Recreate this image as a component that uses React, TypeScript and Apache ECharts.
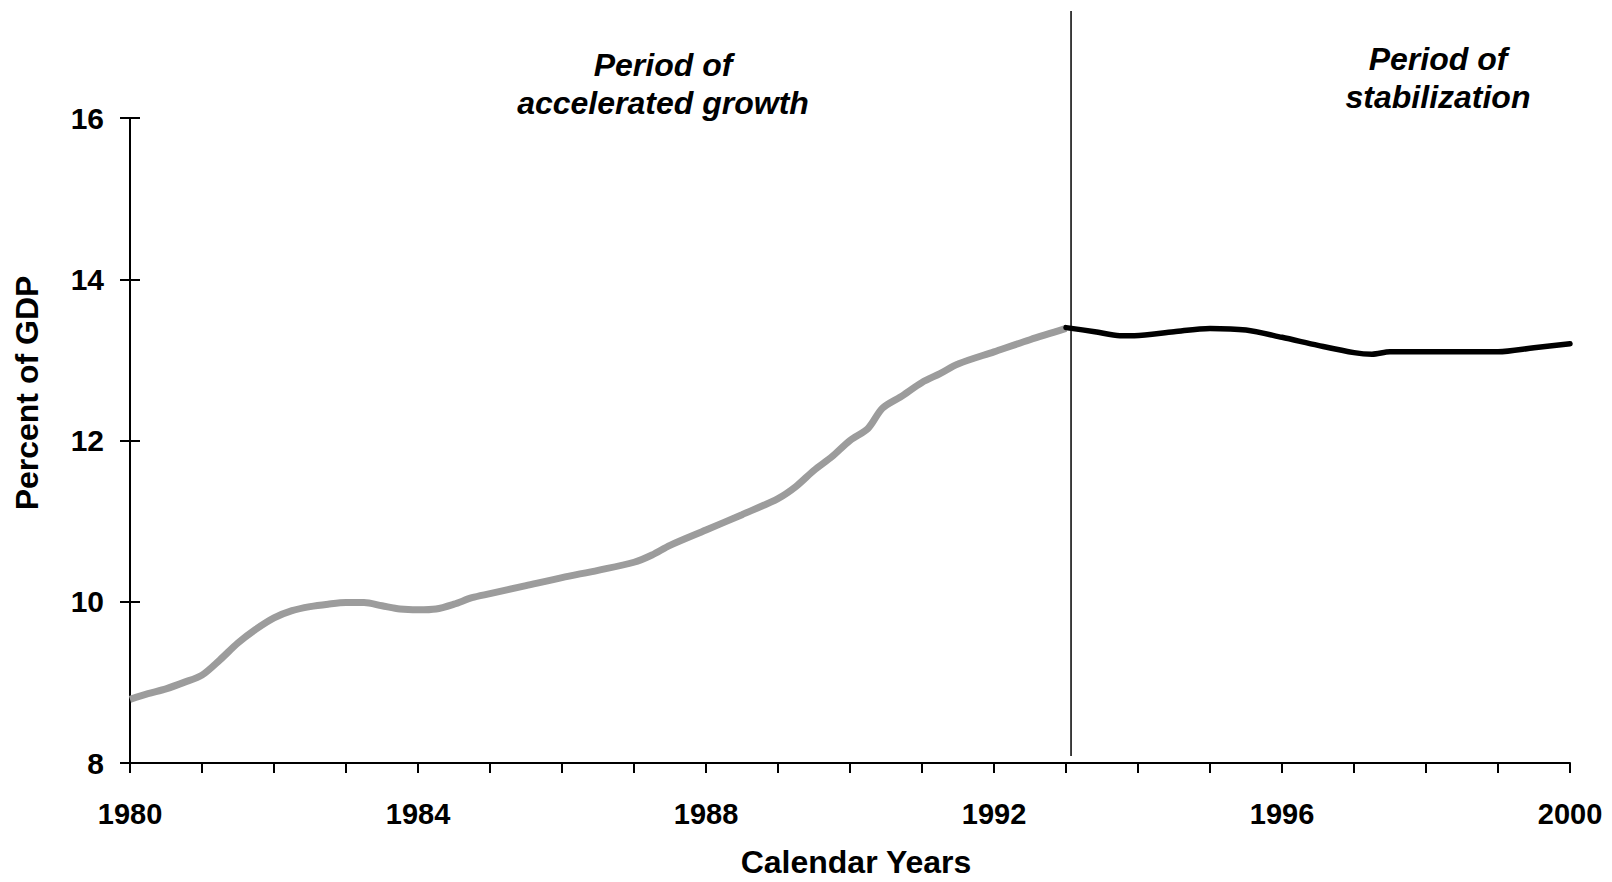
import React, { useEffect, useRef } from "react";
import * as echarts from "echarts";

// Growth period (gray line), calendar years and percent of GDP
const growthYears = [
  1980.0, 1980.25, 1980.5, 1980.75, 1981.0, 1981.25, 1981.5, 1981.75, 1982.0, 1982.25,
  1982.5, 1982.75, 1983.0, 1983.25, 1983.5, 1983.75, 1984.0, 1984.25, 1984.5, 1984.75,
  1985.0, 1985.5, 1986.0, 1986.5, 1987.0, 1987.25, 1987.5, 1988.0, 1988.5, 1989.0,
  1989.25, 1989.5, 1989.75, 1990.0, 1990.25, 1990.45, 1990.7, 1991.0, 1991.25, 1991.5,
  1992.0, 1992.5, 1993.0,
];
const growthValues = [
  8.79, 8.86, 8.92, 9.0, 9.09, 9.28, 9.49, 9.66, 9.8, 9.89,
  9.94, 9.97, 9.99, 9.99, 9.95, 9.91, 9.9, 9.91, 9.97, 10.05,
  10.1, 10.2, 10.3, 10.39, 10.49, 10.58, 10.7, 10.89, 11.08, 11.28,
  11.43, 11.63, 11.8, 12.0, 12.15, 12.4, 12.54, 12.72, 12.83, 12.95,
  13.1, 13.25, 13.39,
];

// Stabilization period (black line)
const stableYears = [
  1993.0, 1993.4, 1993.75, 1993.95, 1994.5, 1995.0, 1995.5, 1996.0, 1996.5, 1997.0,
  1997.25, 1997.5, 1998.0, 1998.5, 1999.0, 1999.5, 2000.0,
];
const stableValues = [
  13.4, 13.35, 13.3, 13.3, 13.35, 13.39, 13.37, 13.28, 13.18, 13.09,
  13.07, 13.1, 13.1, 13.1, 13.1, 13.15, 13.2,
];

const xMin = 1980;
const xMax = 2000;
const xLabelStep = 4;
const yMin = 8;
const yMax = 16;
const yStep = 2;
const boundaryYear = 1993.07;

const xTitle = "Calendar Years";
const yTitle = "Percent of GDP";
const leftNote = ["Period of", "accelerated growth"];
const rightNote = ["Period of", "stabilization"];

const FONT = '"Liberation Sans", Arial, Helvetica, sans-serif';

export default function App() {
  const ref = useRef<HTMLDivElement | null>(null);

  useEffect(() => {
    if (!ref.current) return;
    const chart = echarts.init(ref.current, null, { renderer: "svg" });

    const growthData = growthYears.map((y, i) => [y, growthValues[i]]);
    const stableData = stableYears.map((y, i) => [y, stableValues[i]]);

    const axisLineStyle = { color: "#000", width: 2 };

    chart.setOption({
      animation: false,
      backgroundColor: "#fff",
      grid: { left: 130, right: 42, top: 118, bottom: 119, containLabel: false },
      xAxis: {
        type: "value",
        min: xMin,
        max: xMax,
        interval: 1,
        axisLine: { show: true, lineStyle: axisLineStyle },
        axisTick: { show: true, length: 10, lineStyle: axisLineStyle },
        splitLine: { show: false },
        axisLabel: {
          margin: 36,
          color: "#000",
          fontFamily: FONT,
          fontWeight: "bold",
          fontSize: 29,
          formatter: (v: number) => (Math.round(v) % xLabelStep === 0 ? String(Math.round(v)) : ""),
        },
      },
      yAxis: [
        {
          type: "value",
          min: yMin,
          max: yMax,
          interval: yStep,
          position: "left",
          axisLine: { show: true, onZero: false, lineStyle: axisLineStyle },
          axisTick: { show: true, length: 10, lineStyle: axisLineStyle },
          splitLine: { show: false },
          axisLabel: {
            margin: 26,
            color: "#000",
            fontFamily: FONT,
            fontWeight: "bold",
            fontSize: 30,
          },
        },
        {
          type: "value",
          min: yMin,
          max: yMax,
          interval: yStep,
          position: "left",
          offset: 0,
          axisLine: { show: false },
          axisTick: { show: true, inside: true, length: 10, lineStyle: axisLineStyle },
          splitLine: { show: false },
          axisLabel: { show: false },
        },
      ],
      series: [
        {
          type: "line",
          data: growthData,
          showSymbol: false,
          smooth: 0.3,
          lineStyle: { color: "#9c9c9c", width: 7 },
          z: 2,
        },
        {
          type: "line",
          data: stableData,
          showSymbol: false,
          smooth: 0.3,
          lineStyle: { color: "#000", width: 5.5, cap: "round" },
          z: 3,
        },
      ],
    });

    const bx = chart.convertToPixel({ xAxisIndex: 0 }, boundaryYear) as number;
    const titleStyle = {
      fill: "#000",
      fontFamily: FONT,
      fontWeight: "bold",
      fontSize: 32,
      align: "center",
      verticalAlign: "middle",
    };
    const noteStyle = { ...titleStyle, fontStyle: "italic" };

    chart.setOption({
      graphic: [
        {
          type: "line",
          shape: { x1: bx, y1: 11, x2: bx, y2: 756 },
          style: { stroke: "#000", lineWidth: 1.5 },
          z: 10,
        },
        { type: "text", x: 856, y: 862, style: { ...titleStyle, text: xTitle } },
        { type: "text", x: 27, y: 393, rotation: Math.PI / 2, style: { ...titleStyle, text: yTitle } },
        { type: "text", x: 663, y: 65, style: { ...noteStyle, text: leftNote[0] } },
        { type: "text", x: 663, y: 103, style: { ...noteStyle, text: leftNote[1] } },
        { type: "text", x: 1438, y: 59, style: { ...noteStyle, text: rightNote[0] } },
        { type: "text", x: 1438, y: 97, style: { ...noteStyle, text: rightNote[1] } },
      ],
    });

    return () => chart.dispose();
  }, []);

  return (
    <div
      ref={ref}
      style={{ position: "absolute", left: 0, top: 0, width: 1612, height: 882, background: "#fff" }}
    />
  );
}
